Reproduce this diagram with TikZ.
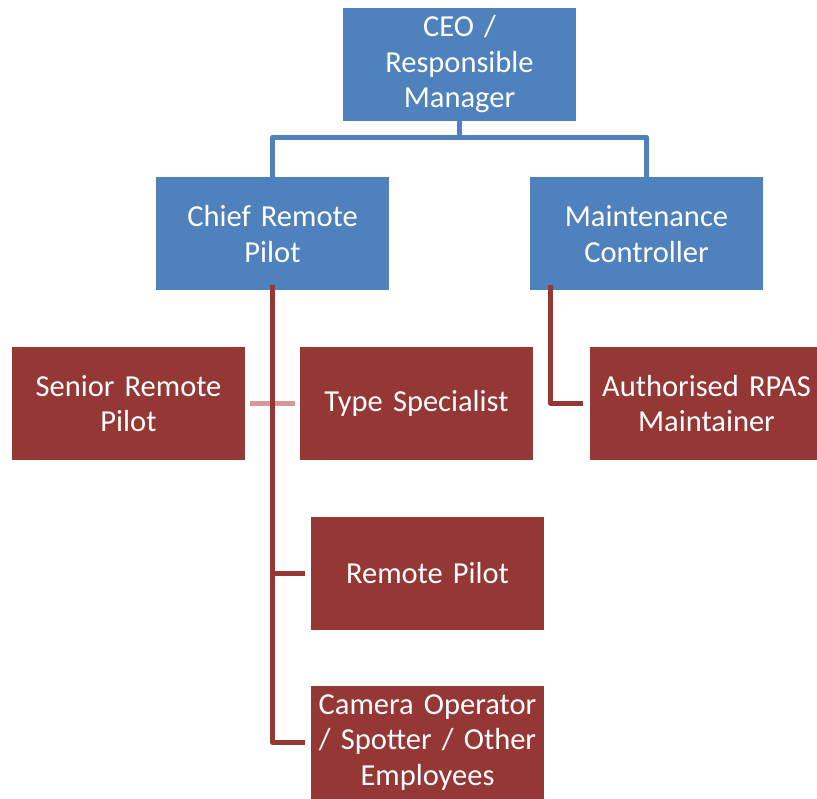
\documentclass[tikz,border=0pt]{standalone}
\usepackage{fontspec}
\setmainfont{Carlito}
\usepackage{xcolor}
\usepackage{tikz}
\usetikzlibrary{positioning, calc}
\definecolor{orgblue}{HTML}{4F81BD}
\definecolor{orgred}{HTML}{953735}
\definecolor{orgpink}{HTML}{D99694}

\begin{document}
\begin{tikzpicture}[
        x=1pt, y=-1pt,
        boxstyle/.style={
            rectangle,
            inner sep=0pt,
            minimum width=233pt,
            minimum height=113pt,
            text width=233pt,
            align=center,
            text=white,
            font=\fontsize{30.5}{35.5}\selectfont
        },
        bluebox/.style={boxstyle, fill=orgblue},
        redbox/.style={boxstyle, fill=orgred},
        blueline/.style={draw=orgblue, line width=5pt, line join=round},
        redline/.style={draw=orgred, line width=5pt, line join=round},
        pinkline/.style={draw=orgpink, line width=5pt}
    ]
        \clip (0,0) rectangle (817,799);
        \node[bluebox] (ceo) at (459.5, 64.5) {CEO /\\ Responsible\\ Manager};
        \node[bluebox] (chief) at (272.5, 234) {Chief Remote\\ Pilot};
        \node[bluebox] (maint) at (646.5, 234) {Maintenance\\ Controller};

        \node[redbox] (senior) at (128.5, 403.5) {Senior Remote\\ Pilot};
        \node[redbox] (type) at (416.5, 403.5) {Type Specialist};
        \node[redbox] (auth) at (706.5, 403.5) {Authorised RPAS\\ Maintainer};
        \node[redbox] (rpilot) at (427.5, 573.5) {Remote Pilot};
        \node[redbox] (camera) at (427.5, 742.5) {Camera Operator\\ / Spotter / Other\\ Employees};

        % top level
        \draw[blueline] ([yshift=6pt]ceo.south) -- ++(0,22) -| ([yshift=-6pt]chief.north);
        \draw[blueline] ([yshift=6pt]ceo.south) -- ++(0,22) -| ([yshift=-6pt]maint.north);

        % assistant link
        \draw[pinkline] ([xshift=5pt]senior.east) -- ([xshift=-5pt]type.west);

        \draw[redline] ([yshift=6pt]chief.south) |- ([xshift=-6pt]camera.west);
        \draw[redline] ([xshift=-6pt]rpilot.west) -- (rpilot.west -| chief.south);
        \draw[redline] ([xshift=21pt,yshift=6pt]maint.south west) |- ([xshift=-7pt]auth.west);
    \end{tikzpicture}
\end{document}
